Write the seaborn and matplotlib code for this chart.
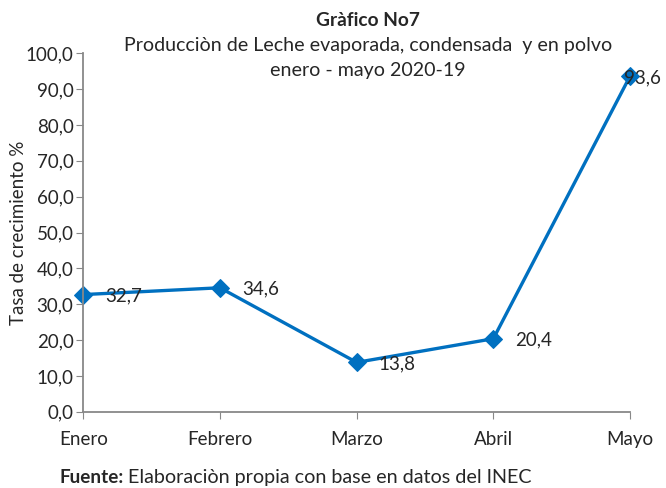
import numpy as np
import pandas as pd
import matplotlib
matplotlib.use('Agg')
import matplotlib.pyplot as plt
import seaborn as sns

# --- data ---
meses = ['Enero', 'Febrero', 'Marzo', 'Abril', 'Mayo']
tasa = [32.7, 34.6, 13.8, 20.4, 93.6]
yticks = [0, 10, 20, 30, 40, 50, 60, 70, 80, 90, 100]

df = pd.DataFrame({'mes': meses, 'tasa': tasa, 'pos': range(len(meses))})

sns.set_style('white')
plt.rcParams['font.family'] = ['Lato', 'DejaVu Sans']

fig = plt.figure(figsize=(6.66, 4.88), dpi=100)
ax = fig.add_axes([0.125, 0.156, 0.821, 0.735])

color = '#0070c0'
sns.lineplot(data=df, x='pos', y='tasa', ax=ax, color=color, linewidth=2.4,
             marker='D', markersize=9, markeredgecolor=color, clip_on=False)

# label offsets (points); last one sits over the marker as in the original
offsets = [16, 16, 16, 16, -4]
for (x, y), dx in zip(zip(df['pos'], df['tasa']), offsets):
    ax.annotate(f'{y:.1f}'.replace('.', ','), (x, y), xytext=(dx, -1),
                textcoords='offset points', ha='left', va='center', fontsize=13.5)

ax.set_xlim(0, 4)
ax.set_ylim(0, 100)
ax.set_xticks(range(len(meses)))
ax.set_xticklabels(meses, fontsize=13.5)
ax.set_yticks(yticks)
ax.set_yticklabels([f'{v:.1f}'.replace('.', ',') for v in yticks], fontsize=13.5)
ax.tick_params(axis='x', length=5, color='#888888', direction='out', pad=9, bottom=True)
ax.tick_params(axis='y', length=5, color='#888888', direction='out', pad=2, left=True)
ax.set_xlabel('')
ax.set_ylabel('Tasa de crecimiento %', fontsize=13.5)
ax.yaxis.set_label_coords(-0.103, 0.5)
for s in ['top', 'right']:
    ax.spines[s].set_visible(False)
for s in ['left', 'bottom']:
    ax.spines[s].set_color('#888888')
    ax.spines[s].set_linewidth(1.3)

fig.text(0.553, 0.958, 'Gràfico No7', ha='center', va='center', fontsize=13.8, fontweight='bold')
fig.text(0.553, 0.907, 'Producciòn de Leche evaporada, condensada  y en polvo',
         ha='center', va='center', fontsize=14.1)
fig.text(0.553, 0.855, 'enero - mayo 2020-19', ha='center', va='center', fontsize=14.1)

# footer: bold "Fuente:" followed by normal text
t1 = fig.text(0.09, 0.022, 'Fuente:', ha='left', va='center', fontsize=13.6, fontweight='bold')
renderer = fig.canvas.get_renderer()
bb = t1.get_window_extent(renderer=renderer).transformed(fig.transFigure.inverted())
fig.text(bb.x1 + 0.006, 0.022, 'Elaboraciòn propia con base en datos del INEC',
         ha='left', va='center', fontsize=14.2)

plt.savefig('out.png', dpi=100)
